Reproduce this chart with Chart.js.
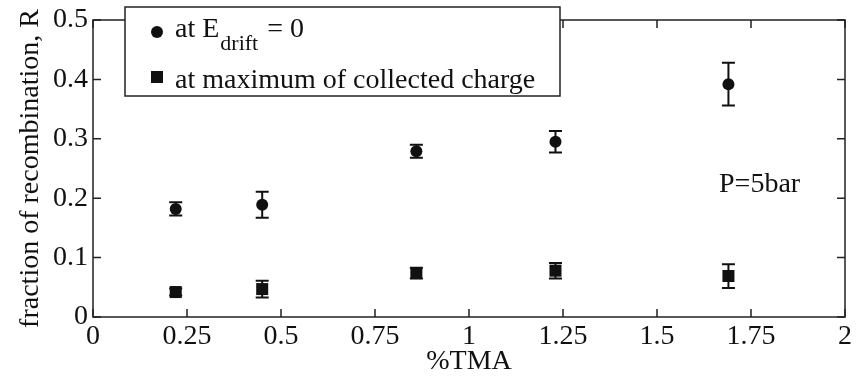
<!DOCTYPE html>
<html>
<head>
<meta charset="utf-8">
<title>Fraction of recombination vs TMA</title>
<script src="https://cdn.jsdelivr.net/npm/chart.js@4/dist/chart.umd.min.js"></script>
<style>
  body { margin: 0; background: #fff; }
  #wrap { width: 861px; height: 376px; }
</style>
</head>
<body>
<div id="wrap"><canvas id="recombChart" width="861" height="376"></canvas></div>
<script>
// TMA concentration (%) of each gas mixture
const tmaPercent = [0.22, 0.45, 0.86, 1.23, 1.69];

// recombination fraction with no drift field
const rZeroField = [0.182, 0.189, 0.279, 0.295, 0.392];
const rZeroFieldErr = [0.011, 0.022, 0.011, 0.018, 0.036];

// recombination fraction where the collected charge peaks
const rMaxCharge = [0.042, 0.047, 0.074, 0.078, 0.069];
const rMaxChargeErr = [0.006, 0.014, 0.009, 0.013, 0.020];

const xTickLabels = ['0', '0.25', '0.5', '0.75', '1', '1.25', '1.5', '1.75', '2'];
const yTickLabels = ['0', '0.1', '0.2', '0.3', '0.4', '0.5'];

const serif = "'Liberation Serif', 'Times New Roman', serif";
const ink = '#111';

// vertical error bars with caps
const errorBars = {
  id: 'errorBars',
  afterDatasetsDraw(chart) {
    const ctx = chart.ctx;
    const y = chart.scales.y;
    ctx.save();
    ctx.strokeStyle = ink;
    ctx.lineWidth = 2;
    chart.data.datasets.forEach((ds, i) => {
      const meta = chart.getDatasetMeta(i);
      meta.data.forEach((pt, j) => {
        const v = ds.data[j].y;
        const e = ds.yErr[j];
        const top = y.getPixelForValue(v + e);
        const bot = y.getPixelForValue(v - e);
        ctx.beginPath();
        ctx.moveTo(pt.x, top);
        ctx.lineTo(pt.x, bot);
        ctx.moveTo(pt.x - 6.5, top);
        ctx.lineTo(pt.x + 6.5, top);
        ctx.moveTo(pt.x - 6.5, bot);
        ctx.lineTo(pt.x + 6.5, bot);
        ctx.stroke();
      });
    });
    ctx.restore();
  }
};

// closed frame with inward ticks on all four sides
const frame = {
  id: 'frame',
  beforeDatasetsDraw(chart) {
    const {ctx, chartArea: a, scales} = chart;
    const len = 8;
    ctx.save();
    ctx.strokeStyle = '#222';
    ctx.lineWidth = 1.5;
    ctx.strokeRect(a.left, a.top, a.right - a.left, a.bottom - a.top);
    ctx.beginPath();
    scales.x.ticks.forEach(t => {
      const px = scales.x.getPixelForValue(t.value);
      ctx.moveTo(px, a.bottom);
      ctx.lineTo(px, a.bottom - len);
      ctx.moveTo(px, a.top);
      ctx.lineTo(px, a.top + len);
    });
    scales.y.ticks.forEach(t => {
      const py = scales.y.getPixelForValue(t.value);
      ctx.moveTo(a.left, py);
      ctx.lineTo(a.left + len, py);
      ctx.moveTo(a.right, py);
      ctx.lineTo(a.right - len, py);
    });
    ctx.stroke();

    // pressure note inside the plot
    ctx.fillStyle = ink;
    ctx.font = '28px ' + serif;
    ctx.textBaseline = 'alphabetic';
    ctx.textAlign = 'left';
    ctx.fillText('P=5bar', scales.x.getPixelForValue(1.665), scales.y.getPixelForValue(0.21));
    ctx.restore();
  }
};

// boxed legend with subscript in the first entry
const legendBox = {
  id: 'legendBox',
  afterDraw(chart) {
    const {ctx, chartArea: a} = chart;
    const left = a.left + 32, top = a.top - 13, w = 435, h = 89;
    ctx.save();
    ctx.fillStyle = '#fff';
    ctx.fillRect(left, top, w, h);
    ctx.strokeStyle = '#222';
    ctx.lineWidth = 1.5;
    ctx.strokeRect(left, top, w, h);

    ctx.fillStyle = ink;
    ctx.beginPath();
    ctx.arc(left + 32, top + 25, 6, 0, Math.PI * 2);
    ctx.fill();
    ctx.fillRect(left + 26, top + 64, 12, 12);

    ctx.textAlign = 'left';
    ctx.textBaseline = 'alphabetic';
    ctx.font = '28px ' + serif;
    let tx = left + 50;
    ctx.fillText('at E', tx, top + 30);
    tx += ctx.measureText('at E').width + 1;
    ctx.font = '22px ' + serif;
    ctx.fillText('drift', tx, top + 43);
    tx += ctx.measureText('drift').width + 2;
    ctx.font = '28px ' + serif;
    ctx.fillText(' = 0', tx, top + 30);
    ctx.fillText('at maximum of collected charge', left + 50, top + 81);
    ctx.restore();
  }
};

new Chart(document.getElementById('recombChart'), {
  type: 'scatter',
  data: {
    datasets: [
      {
        label: 'at E drift = 0',
        data: tmaPercent.map((x, i) => ({x: x, y: rZeroField[i]})),
        yErr: rZeroFieldErr,
        pointStyle: 'circle',
        pointRadius: 6,
        backgroundColor: ink,
        borderColor: ink,
        borderWidth: 0
      },
      {
        label: 'at maximum of collected charge',
        data: tmaPercent.map((x, i) => ({x: x, y: rMaxCharge[i]})),
        yErr: rMaxChargeErr,
        pointStyle: 'rect',
        pointRadius: 8.5,
        backgroundColor: ink,
        borderColor: ink,
        borderWidth: 0
      }
    ]
  },
  options: {
    responsive: false,
    animation: false,
    events: [],
    layout: { padding: { top: 20, right: 16, left: 0, bottom: 0 } },
    plugins: {
      legend: { display: false },
      tooltip: { enabled: false }
    },
    scales: {
      x: {
        type: 'linear',
        min: 0,
        max: 2,
        afterFit(scale) { scale.height = 59; },
        grid: { display: false, drawTicks: false },
        border: { display: false },
        ticks: {
          stepSize: 0.25,
          padding: 6,
          color: ink,
          maxRotation: 0,
          autoSkip: false,
          font: { family: serif, size: 28, lineHeight: 1 },
          callback: (v, i) => xTickLabels[i]
        },
        title: {
          display: true,
          text: '%TMA',
          color: ink,
          padding: { top: 0, bottom: 0 },
          font: { family: serif, size: 28, lineHeight: 1 }
        }
      },
      y: {
        type: 'linear',
        min: 0,
        max: 0.5,
        afterFit(scale) { scale.width = 93; },
        grid: { display: false, drawTicks: false },
        border: { display: false },
        ticks: {
          stepSize: 0.1,
          padding: 5,
          color: ink,
          font: { family: serif, size: 28, lineHeight: 1 },
          callback: (v, i) => yTickLabels[i]
        },
        title: {
          display: true,
          text: 'fraction of recombination, R',
          color: ink,
          padding: { top: 17, bottom: 0 },
          font: { family: serif, size: 28, lineHeight: 1 }
        }
      }
    }
  },
  plugins: [frame, errorBars, legendBox]
});
</script>
</body>
</html>
